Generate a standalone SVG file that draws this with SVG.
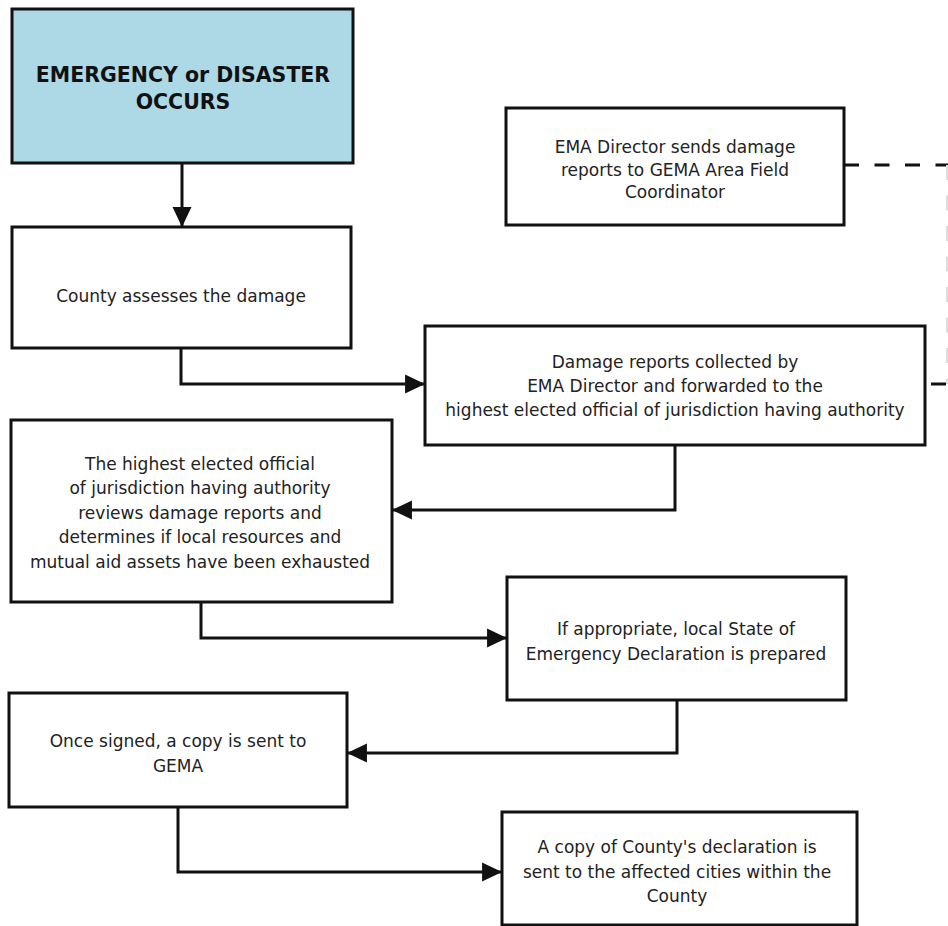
<svg xmlns="http://www.w3.org/2000/svg" width="948" height="926" viewBox="0 0 948 926">
<style>
  .box { fill: #ffffff; stroke: #111111; stroke-width: 3; }
  .start { fill: #add8e6; stroke: #111111; stroke-width: 3; }
  .t { font-family: "DejaVu Sans", Verdana, sans-serif; font-size: 17px; fill: #222222; text-anchor: middle; }
  .tb { font-family: "DejaVu Sans", Verdana, sans-serif; font-size: 20.5px; font-weight: bold; fill: #111111; text-anchor: middle; }
  .c { fill: none; stroke: #111111; stroke-width: 3; marker-end: url(#arr); }
  .d { fill: none; stroke: #111111; stroke-width: 3; stroke-dasharray: 15 15.5; }
  .dv { fill: none; stroke: #dddddd; stroke-width: 2; stroke-dasharray: 15 15.5; }
</style>
<defs>
  <marker id="arr" markerUnits="userSpaceOnUse" markerWidth="20" markerHeight="20" viewBox="0 0 19 18" refX="18" refY="9" orient="auto">
    <path d="M0,0 L19,9 L0,18 Z" fill="#111111"/>
  </marker>
</defs>
<rect width="948" height="926" fill="#ffffff"/>

<g id="connectors">
  <path class="c" d="M182,163 V226"/>
  <path class="c" d="M181,348 V384 H424"/>
  <path class="c" d="M675,445 V510 H393"/>
  <path class="c" d="M201,602 V638 H506"/>
  <path class="c" d="M677,700 V753 H348"/>
  <path class="c" d="M178,807 V872 H501"/>
  <path class="d" d="M844,165 H948"/>
  <path class="dv" d="M947,165 V384"/>
  <path class="d" d="M946,384 H925"/>
</g>

<g id="n1">
  <rect class="start" x="12" y="9" width="341" height="154"/>
  <text class="tb" x="183" y="82">EMERGENCY or DISASTER</text>
  <text class="tb" x="183" y="109">OCCURS</text>
</g>

<g id="n2">
  <rect class="box" x="12" y="227" width="339" height="121"/>
  <text class="t" x="181" y="302">County assesses the damage</text>
</g>

<g id="n3">
  <rect class="box" x="425" y="326" width="500" height="119"/>
  <text class="t" x="675" y="368">Damage reports collected by</text>
  <text class="t" x="675" y="392">EMA Director and forwarded to the</text>
  <text class="t" x="675" y="416">highest elected official of jurisdiction having authority</text>
</g>

<g id="n4">
  <rect class="box" x="506" y="108" width="338" height="117"/>
  <text class="t" x="675" y="153">EMA Director sends damage</text>
  <text class="t" x="675" y="176">reports to GEMA Area Field</text>
  <text class="t" x="675" y="198">Coordinator</text>
</g>

<g id="n5">
  <rect class="box" x="11" y="420" width="381" height="182"/>
  <text class="t" x="200" y="470">The highest elected official</text>
  <text class="t" x="200" y="494">of jurisdiction having authority</text>
  <text class="t" x="200" y="519">reviews damage reports and</text>
  <text class="t" x="200" y="543">determines if local resources and</text>
  <text class="t" x="200" y="568">mutual aid assets have been exhausted</text>
</g>

<g id="n6">
  <rect class="box" x="507" y="577" width="339" height="123"/>
  <text class="t" x="676" y="635">If appropriate, local State of</text>
  <text class="t" x="676" y="660">Emergency Declaration is prepared</text>
</g>

<g id="n7">
  <rect class="box" x="9" y="693" width="338" height="114"/>
  <text class="t" x="178" y="747">Once signed, a copy is sent to</text>
  <text class="t" x="178" y="772">GEMA</text>
</g>

<g id="n8">
  <rect class="box" x="502" y="812" width="355" height="113"/>
  <text class="t" x="677" y="853">A copy of County's declaration is</text>
  <text class="t" x="677" y="878">sent to the affected cities within the</text>
  <text class="t" x="677" y="902">County</text>
</g>
</svg>
